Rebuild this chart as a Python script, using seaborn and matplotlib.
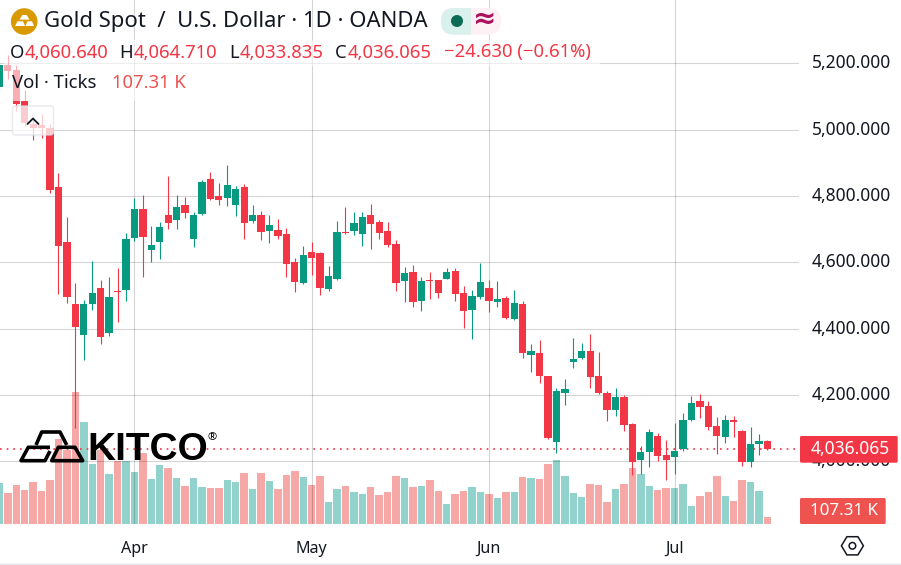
import matplotlib
matplotlib.use("Agg")
import matplotlib.pyplot as plt
from matplotlib.patches import Circle, FancyBboxPatch, Polygon, Rectangle
import numpy as np
import pandas as pd
import seaborn as sns

# Daily OANDA gold candles, oldest first
open_ = [5130,5195,5180,5086,5017,5014,5005,4827,4661,4474,4381,4474,4523,4387,4514,4517,4673,4761,4637,4661,
         4743,4728,4773,4670,4746,4851,4800,4794,4773,4827,4725,4743,4695,4698,4685,4601,4538,4631,4628,4520,
         4550,4692,4695,4685,4743,4722,4695,4655,4544,4571,4483,4547,4547,4550,4574,4508,4456,4496,4523,4480,
         4493,4429,4474,4321,4327,4257,4058,4206,4299,4312,4333,4257,4206,4155,4194,4113,4004,4028,4076,4019,
         4013,4037,4125,4182,4167,4107,4073,4125,4092,3998,4052,4060.64]
high = [5204,5225,5195,5120,5038,5047,5017,4869,4737,4538,4486,4604,4547,4556,4583,4689,4794,4803,4710,4722,
        4860,4803,4797,4752,4848,4872,4839,4893,4830,4836,4773,4755,4743,4731,4704,4613,4649,4661,4631,4589,
        4725,4767,4752,4752,4776,4728,4722,4667,4586,4592,4556,4571,4548,4583,4583,4529,4517,4598,4547,4544,
        4499,4517,4483,4354,4366,4258,4221,4248,4372,4357,4384,4330,4212,4221,4200,4116,4046,4098,4086,4064,
        4116,4146,4197,4203,4182,4134,4140,4137,4095,4104,4082,4064.71]
low = [5120,5153,5057,5011,4969,4975,4810,4505,4477,4101,4306,4456,4354,4378,4420,4483,4664,4556,4601,4610,
       4701,4701,4734,4646,4743,4788,4773,4770,4740,4670,4719,4667,4658,4670,4556,4511,4535,4562,4502,4514,
       4547,4685,4682,4649,4640,4670,4646,4514,4480,4465,4453,4490,4492,4550,4483,4402,4369,4490,4450,4465,
       4429,4426,4312,4269,4236,4067,4025,4170,4281,4309,4221,4203,4122,4137,4092,3959,3962,3983,4001,3944,
       3962,4031,4122,4131,4095,4022,4055,4073,3986,3983,4019,4033.835]
close = [5195,5178,5077,5019,5005,5005,4818,4649,4496,4405,4474,4508,4375,4496,4511,4670,4761,4676,4652,4707,
         4719,4767,4749,4743,4842,4791,4788,4833,4821,4719,4743,4692,4713,4679,4595,4541,4622,4613,4523,4559,
         4692,4689,4719,4737,4716,4689,4652,4538,4568,4480,4544,4544,4508,4571,4505,4453,4499,4541,4483,4490,
         4432,4477,4327,4333,4257,4070,4212,4218,4309,4333,4254,4206,4155,4194,4110,3998,4028,4089,4016,4004,
         4031,4125,4176,4164,4104,4076,4125,4119,3998,4052,4061,4036.065]
volume_k = [629,475,598,521,644,506,675,1303,1134,2024,1564,920,1134,767,966,966,797,1088,690,905,
            858,705,583,705,567,552,552,675,644,782,537,782,659,537,751,813,721,598,736,337,
            537,583,491,460,567,445,491,736,705,567,583,675,506,307,460,506,567,491,460,399,
            491,491,721,705,690,920,981,736,475,414,613,598,337,537,613,858,767,583,521,552,
            552,613,276,429,491,736,429,353,675,644,506,107.31]

price_ticks = [4000, 4200, 4400, 4600, 4800, 5000, 5200]
month_labels = ["Apr", "May", "Jun", "Jul"]
month_starts = [16, 37, 58, 80]

UP, DOWN = "#089981", "#F23645"
VOL_UP, VOL_DOWN = "#26A69A", "#EF5350"
INK = "#131722"
SANS = "Noto Sans"

sns.set_theme(style="white")
plt.rcParams["font.family"] = [SANS, "DejaVu Sans"]

W, H = 901, 565
PANE_W, PANE_H = 799, 524
fig = plt.figure(figsize=(W / 100, H / 100), dpi=100, facecolor="white")
rect = [0, 1 - PANE_H / H, PANE_W / W, PANE_H / H]

df = pd.DataFrame({"open": open_, "high": high, "low": low, "close": close, "vol": volume_k})
df["i"] = np.arange(len(df))
df["dir"] = np.where(df["close"] >= df["open"], "up", "down")

# Volume pane sits underneath the price candles and shares their x positions
ax_vol = fig.add_axes(rect, zorder=1)
sns.barplot(data=df, x="i", y="vol", hue="dir", hue_order=["up", "down"],
            palette={"up": VOL_UP, "down": VOL_DOWN}, native_scale=True, dodge=False,
            width=0.88, alpha=0.5, saturation=1, linewidth=0, legend=False, ax=ax_vol)
ax_vol.set_ylim(0, 8033)
ax_vol.set_xlim(0.07, 94.74)
ax_vol.axis("off")

ax = fig.add_axes(rect, zorder=2)
ax.patch.set_alpha(0)
colors = df["dir"].map({"up": UP, "down": DOWN})
ax.vlines(df["i"], df["low"], df["high"], colors=colors, linewidth=0.8, zorder=3, snap=True)
body_lo = df[["open", "close"]].min(axis=1)
body_hi = df[["open", "close"]].max(axis=1)
ax.bar(df["i"], np.maximum(body_hi - body_lo, 3.5), bottom=body_lo, width=0.86, color=colors,
       linewidth=0, zorder=4)
ax.axhline(close[-1], color=DOWN, linestyle=(0, (1, 3)), linewidth=1.2, zorder=2)

ax.set_xlim(0.07, 94.74)
ax.set_ylim(3811, 5391)
ax.yaxis.tick_right()
ax.set_yticks(price_ticks, [f"{p:,.3f}" for p in price_ticks], fontsize=12.5, color=INK, va="center")
ax.set_xticks(month_starts, month_labels, fontsize=11.6, color=INK)
ax.tick_params(axis="y", length=0, pad=9.4)
ax.tick_params(axis="x", length=0, pad=12)
ax.grid(True, color="black", alpha=0.17, linewidth=0.8, zorder=0)
ax.set_axisbelow(True)
ax.set_xlabel("")
ax.set_ylabel("")
for spine in ax.spines.values():
    spine.set_visible(False)

# Chrome layer in screen pixels: legend rows, badges, watermark
ui = fig.add_axes([0, 0, 1, 1], zorder=5)
ui.set_xlim(0, W)
ui.set_ylim(H, 0)
ui.axis("off")
ui.patch.set_alpha(0)

ui.add_patch(Rectangle((4, 40), 596, 26, fc="white", alpha=0.6, lw=0))
ui.add_patch(Rectangle((4, 66), 186, 35, fc="white", alpha=0.6, lw=0))

# Instrument badge
ui.add_patch(Circle((24.2, 21.5), 13.3, fc="#D89A00", lw=0))
for pts in ([(19.5, 19.6), (22.4, 15), (26.6, 15), (29.5, 19.6)],
            [(15, 26), (17.6, 21.3), (23, 21.3), (25, 26)],
            [(25.6, 26), (27.4, 21.3), (32, 21.3), (34, 26)]):
    ui.add_patch(Polygon(pts, closed=True, fc="white", lw=0))


def label(x, y, s, color=INK, size=13.3, **kw):
    return ui.text(x, y, s, color=color, fontsize=size, va="center", ha=kw.pop("ha", "left"), **kw)


label(44, 22, "Gold Spot  /  U.S. Dollar · 1D · OANDA", size=15.9)
for x, s, c in [(10, "O", INK), (25, "4,060.640", DOWN), (119, "H", INK), (134, "4,064.710", DOWN),
                (229, "L", INK), (240, "4,033.835", DOWN), (335, "C", INK), (348, "4,036.065", DOWN),
                (444, "−24.630 (−0.61%)", DOWN)]:
    label(x, 52.5, s, c)
label(12, 83.5, "Vol · Ticks")
label(112, 83.5, "107.31 K", "#EF5350")

# Status pill with market-open dot and delayed-data mark
pill_r = FancyBboxPatch((441, 8), 60, 26.7, boxstyle="round,pad=0,rounding_size=13", fc="#FDF1F6", lw=0)
ui.add_patch(pill_r)
pill_t = FancyBboxPatch((441, 8), 60, 26.7, boxstyle="round,pad=0,rounding_size=13", fc="#DAF0EC", lw=0)
ui.add_patch(pill_t)
pill_t.set_clip_path(Rectangle((441, 8), 30, 27, transform=ui.transData))
ui.add_patch(Circle((457, 21), 6, fc="#0B6B57", lw=0))
label(485, 20, "≈", "#A8125F", size=20, ha="center", fontweight="bold")

# Collapse button
ui.add_patch(FancyBboxPatch((12.5, 106), 41, 29, boxstyle="round,pad=0,rounding_size=3",
                            fc="white", ec="#DFE2E8", alpha=0.75, lw=1))
ui.plot([27.5, 33, 38.5], [124, 118.5, 124], color=INK, lw=1.3)

# Last price and last volume tags
ui.add_patch(FancyBboxPatch((800, 436), 97.7, 26.7, boxstyle="round,pad=0,rounding_size=1.5", fc=DOWN, lw=0))
label(850.5, 449, "4,036.065", "white", size=12.5, ha="center", fontweight="medium")
ui.add_patch(FancyBboxPatch((800, 498), 85.7, 26, boxstyle="round,pad=0,rounding_size=1.5", fc="#EF5350", lw=0))
label(844.5, 511, "107.31 K", "white", size=12.2, ha="center", fontweight="medium")

# Settings hexagon
angles = np.deg2rad(np.arange(0, 360, 60))
ui.add_patch(Polygon(np.c_[852.4 + 11 * np.cos(angles), 545.8 + 10.5 * np.sin(angles)], closed=True,
                     fc="none", ec=INK, lw=1.1))
ui.add_patch(Circle((852.4, 545.8), 3.3, fc="none", ec=INK, lw=1.1))

ui.plot([0, W], [564, 564], color="#E0E3EB", lw=1)

# KITCO watermark
for pts, closed in (([(36, 445), (41.7, 432), (60, 432), (66.7, 445)], False),
                    ([(50, 447.3), (28.3, 447.3), (21, 460.7), (45, 460.7), (50, 451)], False),
                    ([(51.7, 460.7), (58.3, 447.3), (75, 447.3), (82.7, 460.7)], True)):
    ui.add_patch(Polygon(pts, closed=closed, fc="none", ec="black", lw=2.6, joinstyle="round"))
ui.text(87, 450.5, "KITCO", fontsize=28, color="black", family="Liberation Sans", fontweight="bold",
        va="center", ha="left")
ui.text(207, 437.5, "®", fontsize=8, color="black", va="center", ha="left")

fig.savefig("out.png", dpi=100)
